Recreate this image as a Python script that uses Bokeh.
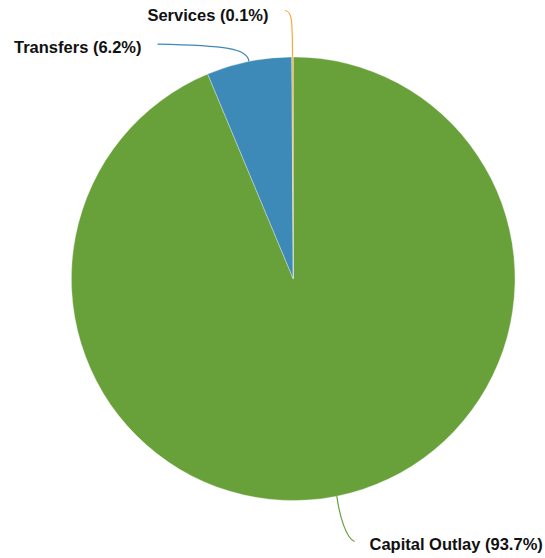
import math
from bokeh.plotting import figure
from bokeh.models import Range1d, ColumnDataSource
from bokeh.core.properties import value
from bokeh.embed import file_html
from bokeh.resources import INLINE

# data
categories = ["Capital Outlay", "Transfers", "Services"]
percents = [93.7, 6.2, 0.1]
colors = ["#68a03a", "#3d89b7", "#f5aa3c"]

# page geometry helpers (page px -> data units, y up)
W, H = 545, 558
def py(v):
    return H - v

cx, cy, R = 292.7, py(278.2), 221.8

p = figure(width=W, height=H, output_backend="svg", toolbar_location=None,
           x_range=Range1d(0, W), y_range=Range1d(0, H), min_border=0)
p.axis.visible = False
p.grid.visible = False
p.outline_line_color = None
p.background_fill_color = "white"

total = sum(percents)
starts, ends, mids = [], [], []
cum = 0.0
for v in percents:
    a0 = math.pi / 2 - 2 * math.pi * cum / total
    a1 = math.pi / 2 - 2 * math.pi * (cum + v) / total
    starts.append(a1)
    ends.append(a0)
    mids.append(math.pi / 2 - 2 * math.pi * (cum + v / 2) / total)
    cum += v

src = ColumnDataSource(dict(start=starts, end=ends, color=colors))
p.wedge(x=cx, y=cy, radius=R, start_angle="start", end_angle="end",
        direction="anticlock", fill_color="color", line_color="white",
        line_width=0.4, line_alpha=0.8, source=src)

# leader lines (bezier) from slice arc midpoints to labels
ax = [cx + R * math.cos(m) for m in mids]
ay = [cy + R * math.sin(m) for m in mids]
lab_end = [(354, 541), (157, 43.7), (284.3, 10)]
ctrl0 = [(339, 516), (247.2, 48), (292, 16)]
ctrl1 = [(346, 538), (225, 45), (291, 10.5)]
p.bezier(x0=ax, y0=ay,
         x1=[e[0] for e in lab_end], y1=[py(e[1]) for e in lab_end],
         cx0=[c[0] for c in ctrl0], cy0=[py(c[1]) for c in ctrl0],
         cx1=[c[0] for c in ctrl1], cy1=[py(c[1]) for c in ctrl1],
         line_color=colors, line_width=1.2)

labels = [f"{c} ({v}%)" for c, v in zip(categories, percents)]
lab_x = [369, 141, 268]
lab_y = [py(543.5), py(46.5), py(14)]
lab_align = ["left", "right", "right"]
tsrc = ColumnDataSource(dict(x=lab_x, y=lab_y, t=labels, a=lab_align))
p.text(x="x", y="y", text="t", text_align="a", text_baseline="middle",
       text_font=value("Liberation Sans"), text_font_style="bold",
       text_font_size="16.5px", text_color="#111111", source=tsrc)

open("out.html", "w").write(file_html(p, INLINE))
